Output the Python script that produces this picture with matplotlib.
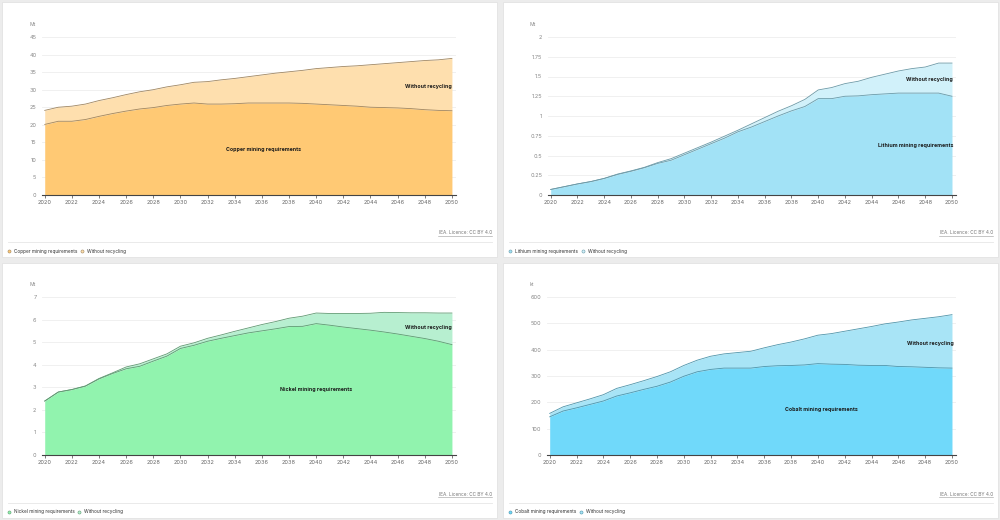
import matplotlib
matplotlib.use("Agg")
import matplotlib.pyplot as plt
from matplotlib.patches import Rectangle
from matplotlib.lines import Line2D

years = list(range(2020, 2051))

copper_mining = [20.1, 21.0, 21.0, 21.5, 22.4, 23.2, 23.9, 24.5, 24.9, 25.5, 25.9, 26.2, 25.9, 25.9, 26.0,
                 26.2, 26.2, 26.2, 26.2, 26.1, 25.9, 25.7, 25.5, 25.3, 25.0, 24.9, 24.8, 24.6, 24.3, 24.1, 24.0]
copper_norec = [24.1, 25.0, 25.3, 25.9, 26.9, 27.7, 28.6, 29.4, 30.0, 30.8, 31.4, 32.1, 32.3, 32.8, 33.2,
                33.7, 34.2, 34.7, 35.1, 35.5, 36.0, 36.3, 36.6, 36.8, 37.1, 37.4, 37.7, 38.0, 38.3, 38.5, 38.9]

lithium_mining = [0.07, 0.105, 0.14, 0.17, 0.21, 0.26, 0.30, 0.345, 0.40, 0.44, 0.51, 0.58, 0.65, 0.72, 0.80,
                  0.86, 0.93, 1.00, 1.065, 1.12, 1.22, 1.22, 1.25, 1.255, 1.27, 1.28, 1.29, 1.29, 1.29, 1.29, 1.25]
lithium_norec = [0.07, 0.105, 0.14, 0.17, 0.21, 0.265, 0.305, 0.35, 0.41, 0.46, 0.53, 0.60, 0.67, 0.745, 0.82,
                 0.90, 0.98, 1.06, 1.13, 1.21, 1.33, 1.36, 1.41, 1.44, 1.49, 1.53, 1.57, 1.60, 1.62, 1.67, 1.67]

nickel_mining = [2.39, 2.79, 2.90, 3.05, 3.37, 3.61, 3.82, 3.93, 4.16, 4.38, 4.72, 4.86, 5.04, 5.17, 5.29,
                 5.41, 5.50, 5.59, 5.69, 5.70, 5.82, 5.75, 5.67, 5.60, 5.53, 5.45, 5.36, 5.26, 5.16, 5.04, 4.89]
nickel_norec = [2.39, 2.79, 2.90, 3.06, 3.39, 3.64, 3.90, 4.04, 4.26, 4.48, 4.82, 4.97, 5.17, 5.32, 5.48,
                5.63, 5.78, 5.91, 6.06, 6.15, 6.29, 6.27, 6.27, 6.27, 6.28, 6.32, 6.31, 6.30, 6.30, 6.29, 6.29]

cobalt_mining = [145, 167, 179, 192, 205, 224, 236, 249, 261, 277, 299, 316, 325, 330, 330,
                 330, 336, 339, 340, 342, 347, 345, 344, 341, 340, 340, 336, 335, 333, 331, 330]
cobalt_norec = [158, 183, 198, 213, 229, 253, 267, 282, 298, 316, 340, 360, 375, 384, 389,
                394, 407, 419, 429, 441, 455, 461, 470, 479, 488, 498, 505, 513, 519, 525, 533]

panels = [
    dict(name="Copper", unit="Mt", mining=copper_mining, norec=copper_norec,
         yticks=[0, 5, 10, 15, 20, 25, 30, 35, 40, 45], ylabels=None,
         c_low="#ffc974", c_high="#fedfae", edge="#a08660",
         pos_low=(2036.1, 13.1), pos_high=(2048.3, 31.0), leg2=80),
    dict(name="Lithium", unit="Mt", mining=lithium_mining, norec=lithium_norec,
         yticks=[0, 0.25, 0.5, 0.75, 1, 1.25, 1.5, 1.75, 2],
         ylabels=["0", "0.25", "0.5", "0.75", "1", "1.25", "1.5", "1.75", "2"],
         c_low="#a2e2f6", c_high="#d1f1fa", edge="#6a9aa8",
         pos_low=(2047.3, 0.63), pos_high=(2048.3, 1.46), leg2=80),
    dict(name="Nickel", unit="Mt", mining=nickel_mining, norec=nickel_norec,
         yticks=[0, 1, 2, 3, 4, 5, 6, 7], ylabels=None,
         c_low="#91f3ae", c_high="#b7efd0", edge="#5f9a72",
         pos_low=(2040.0, 2.88), pos_high=(2048.3, 5.67), leg2=77),
    dict(name="Cobalt", unit="kt", mining=cobalt_mining, norec=cobalt_norec,
         yticks=[0, 100, 200, 300, 400, 500, 600], ylabels=None,
         c_low="#70d9fa", c_high="#a8e4f6", edge="#4e95ab",
         pos_low=(2040.3, 171), pos_high=(2048.4, 425), leg2=78),
]

W, H = 1000, 520
plt.rcParams["font.family"] = ["Inter", "DejaVu Sans"]
fig = plt.figure(figsize=(10, 5.2), dpi=100, facecolor="#ececec")

# card boxes and plot areas, in pixels (left, top, right, bottom)
cards = [(2, 2, 497, 257), (503, 2, 998, 257), (2, 263, 497, 518), (503, 263, 998, 518)]
plots = [(42, 37, 456, 195), (548, 37, 956, 195), (42, 297, 456, 455), (547, 297, 956, 455)]

for p, card, area in zip(panels, cards, plots):
    cl, ct, cr, cb = card
    fig.patches.append(Rectangle((cl / W, 1 - cb / H), (cr - cl) / W, (cb - ct) / H,
                                 transform=fig.transFigure, facecolor="white",
                                 edgecolor="#e2e2e2", linewidth=0.6, zorder=-5))
    l, t, r, b = area
    ax = fig.add_axes([l / W, 1 - b / H, (r - l) / W, (b - t) / H])
    ax.set_facecolor("none")
    ax.fill_between(years, p["mining"], p["norec"], color=p["c_high"], linewidth=0, zorder=2)
    ax.fill_between(years, 0, p["mining"], color=p["c_low"], linewidth=0, zorder=2)
    ax.plot(years, p["norec"], color=p["edge"], linewidth=0.6, zorder=3)
    ax.plot(years, p["mining"], color=p["edge"], linewidth=0.6, zorder=3)

    ax.set_xlim(2019.8, 2050.3)
    ax.set_ylim(0, p["yticks"][-1])
    ax.set_xticks(list(range(2020, 2051, 2)))
    ax.set_yticks(p["yticks"])
    if p["ylabels"]:
        ax.set_yticklabels(p["ylabels"])
    ax.tick_params(axis="x", labelsize=4, colors="#666666", length=2, width=0.6, pad=1.5)
    ax.tick_params(axis="y", labelsize=4, colors="#888888", length=0, pad=4)
    ax.grid(axis="y", color="#eeeeee", linewidth=0.6, zorder=0)
    for side in ["top", "right", "left"]:
        ax.spines[side].set_visible(False)
    ax.spines["bottom"].set_color("#444444")
    ax.spines["bottom"].set_linewidth(0.8)
    ax.spines["bottom"].set_zorder(4)

    ax.text(*p["pos_low"], p["name"] + " mining requirements", fontsize=3.8, fontweight="bold",
            color="#1a1a1a", ha="center", va="center", zorder=5)
    ax.text(*p["pos_high"], "Without recycling", fontsize=3.8, fontweight="bold",
            color="#1a1a1a", ha="center", va="center", zorder=5)

    # unit label
    fig.text((cl + 27) / W, 1 - (ct + 22) / H, p["unit"], fontsize=3.6, color="#888888",
             ha="left", va="center")

    # source
    fig.text((cr - 5) / W, 1 - (ct + 231) / H, "IEA. Licence: CC BY 4.0", fontsize=3.4,
             color="#777777", ha="right", va="center")
    fig.add_artist(Line2D([(cr - 59) / W, (cr - 5) / W], [1 - (ct + 233.5) / H] * 2,
                          color="#999999", linewidth=0.4))

    # separator and legend
    fig.add_artist(Line2D([(cl + 6) / W, (cr - 5) / W], [1 - (ct + 240) / H] * 2,
                          color="#e6e6e6", linewidth=0.6))
    ly = 1 - (ct + 249) / H
    fig.add_artist(Line2D([(cl + 7) / W], [ly], marker="o", markersize=2.2, linestyle="none",
                          markerfacecolor=p["c_low"], markeredgecolor=p["edge"], markeredgewidth=0.4))
    fig.text((cl + 12) / W, ly, p["name"] + " mining requirements", fontsize=3.4, color="#333333",
             ha="left", va="center")
    x2 = cl + p["leg2"]
    fig.add_artist(Line2D([x2 / W], [ly], marker="o", markersize=2.2, linestyle="none",
                          markerfacecolor=p["c_high"], markeredgecolor=p["edge"], markeredgewidth=0.4))
    fig.text((x2 + 5) / W, ly, "Without recycling", fontsize=3.4, color="#333333",
             ha="left", va="center")

fig.savefig("out.png", dpi=100, facecolor=fig.get_facecolor())
